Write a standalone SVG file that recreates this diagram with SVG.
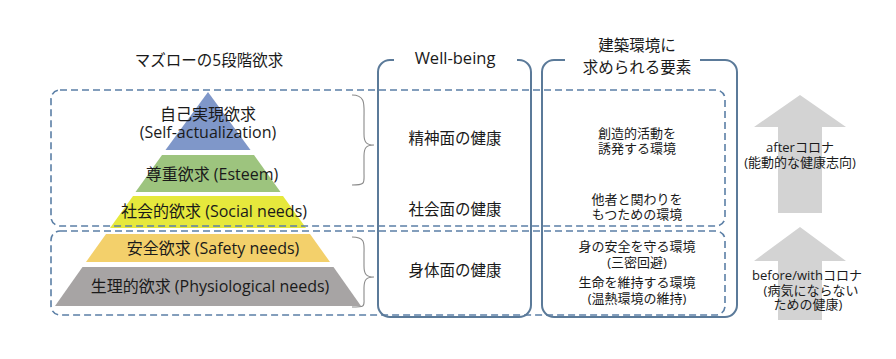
<svg xmlns="http://www.w3.org/2000/svg" width="896" height="359" viewBox="0 0 896 359">
<style>
text{font-family:"Open Sans","Noto Sans CJK JP",sans-serif;fill:#1a1a1a;text-anchor:middle}
.t16{font-size:16px}
.t15{font-size:15.5px}
.t13{font-size:13px}
.dash{fill:none;stroke:#5b7fa6;stroke-width:1.6;stroke-dasharray:7 4}
.col{fill:none;stroke:#5b7a99;stroke-width:2}
.brace{fill:none;stroke:#8a8a8a;stroke-width:1.1}
.arrow{fill:#d3d3d3}
</style>
<rect width="896" height="359" fill="#ffffff"/>

<g id="arrows">
<polygon class="arrow" points="800,95 846,127 822,127 822,213 778,213 778,127 754,127"/>
<polygon class="arrow" points="800,227 846,261 822,261 822,320 778,320 778,261 754,261"/>
</g>

<g id="pyramid">
<g id="self-actualization">
<polygon points="208,92 250.5,150 165.5,150" fill="#7f97c9"/>
<text class="t16" x="208" y="120">自己実現欲求</text>
<text class="t16" x="208" y="138">(Self-actualization)</text>
</g>
<g id="esteem">
<polygon points="162,155 254,155 280.5,192 135.5,192" fill="#9dc47e"/>
<text class="t16" x="212" y="180">尊重欲求 (Esteem)</text>
</g>
<g id="social">
<polygon points="133,196 283,196 306,228 110,228" fill="#e6e83c"/>
<text class="t16" x="214" y="217">社会的欲求 (Social needs)</text>
</g>
<g id="safety">
<polygon points="106,234 310,234 330,262 86,262" fill="#f3d06b"/>
<text class="t16" x="213" y="254">安全欲求 (Safety needs)</text>
</g>
<g id="physiological">
<polygon points="82.5,267 333.5,267 361,306 55,306" fill="#a7a4a4"/>
<text class="t16" x="210" y="292">生理的欲求 (Physiological needs)</text>
</g>
</g>

<g id="groups">
<rect class="dash" x="51" y="90" width="674" height="136" rx="9"/>
<rect class="dash" x="51" y="231" width="674" height="84" rx="9"/>
</g>

<g id="braces">
<path class="brace" d="M352,95 C366,95 364,105 364,118 L364,134 C364,142 366,145 374,145 C366,145 364,148 364,156 L364,172 C364,183 366,185 352,185"/>
<path class="brace" d="M352,237 C366,237 364,244 364,254 L364,266 C364,274 366,277 374,277 C366,277 364,280 364,288 L364,298 C364,306 366,307 352,307"/>
</g>

<g id="title-maslow">
<text class="t15" x="209" y="66">マズローの5段階欲求</text>
</g>

<g id="wellbeing">
<path class="col" d="M394,60 H390 A12,12 0 0 0 378,72 V305 A12,12 0 0 0 390,317 H519 A12,12 0 0 0 531,305 V72 A12,12 0 0 0 519,60 H517"/>
<text x="455" y="64" style="font-size:16.5px">Well-being</text>
<text class="t15" x="455" y="144">精神面の健康</text>
<text class="t15" x="455" y="215">社会面の健康</text>
<text class="t15" x="455" y="276">身体面の健康</text>
</g>

<g id="architecture">
<path class="col" d="M565,60 H554 A12,12 0 0 0 542,72 V305 A12,12 0 0 0 554,317 H725 A12,12 0 0 0 737,305 V72 A12,12 0 0 0 725,60 H700"/>
<text class="t15" x="637" y="51">建築環境に</text>
<text class="t15" x="637" y="73">求められる要素</text>
<text class="t13" x="637" y="138">創造的活動を</text>
<text class="t13" x="637" y="153">誘発する環境</text>
<text class="t13" x="637" y="204">他者と関わりを</text>
<text class="t13" x="637" y="219">もつための環境</text>
<text class="t13" x="637" y="251">身の安全を守る環境</text>
<text class="t13" x="637" y="267">(三密回避)</text>
<text class="t13" x="637" y="287">生命を維持する環境</text>
<text class="t13" x="637" y="303">(温熱環境の維持)</text>
</g>

<g id="after-corona">
<text class="t13" x="800" y="152">afterコロナ</text>
<text class="t13" x="800" y="167">(能動的な健康志向)</text>
</g>

<g id="before-corona">
<text class="t13" x="807" y="280">before/withコロナ</text>
<text class="t13" x="811" y="295">(病気にならない</text>
<text class="t13" x="808" y="309">ための健康)</text>
</g>
</svg>
